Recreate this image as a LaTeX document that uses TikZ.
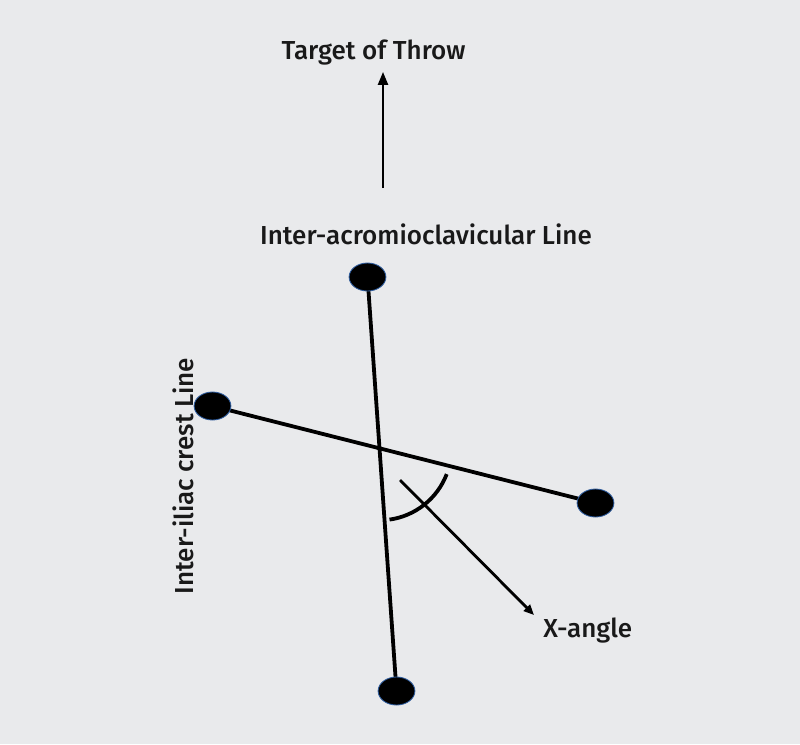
\documentclass[tikz,border=0pt]{standalone}
\usepackage{fontspec}
\setmainfont{Fira Sans}[UprightFont={* Medium}]
\usepackage{tikz}
\usetikzlibrary{shapes.geometric, arrows.meta, backgrounds}
\definecolor{paper}{HTML}{E9EAEC}
\definecolor{rimblue}{HTML}{2E5C9E}

\begin{document}
\begin{tikzpicture}[
  x=0.025cm, y=-0.025cm,
  dot/.style={ellipse, fill=black, draw=rimblue, line width=0.6pt, minimum width=0.92cm, minimum height=0.7cm, inner sep=0pt},
  label/.style={font=\fontsize{18.5}{22}\selectfont, text=black!90, inner sep=0pt, anchor=base},
  bar/.style={line width=2.7pt, black},
]
  \useasboundingbox (0,0) rectangle (800,744);

  % Points
  \node[dot] (shoulder) at (367.5,277) {};
  \node[dot] (hipleft)  at (212.5,406) {};
  \node[dot] (hipright) at (595.5,503) {};
  \node[dot] (foot)     at (396.5,691) {};

  % Lines
  \begin{pgfonlayer}{background}
    \fill[paper] (0,0) rectangle (800,744);
    \draw[bar] (shoulder.center) -- (foot.center);
    \draw[bar] (hipleft.center) -- (hipright.center);
  \end{pgfonlayer}

  % Labels
  \node[label] (target) at (373.5,59) {Target of Throw};
  \node[label] (acline) at (426,244) {Inter-acromioclavicular Line};
  \node[label, rotate=90] (icline) at (193,476) {Inter-iliac crest Line};
  \node[label, anchor=base west] (xangle) at (543,637) {X-angle};

  % Arrow
  \coordinate (throwbase) at (383,188);
  \coordinate (throwtip) at (383,72);
  \draw[-{Triangle[length=3.2mm, width=2.5mm]}, line width=1.4pt] (throwbase) -- (throwtip);

  % Angle
  \coordinate (cross) at (intersection of shoulder.center--foot.center and hipleft.center--hipright.center);
  \draw[line width=2.7pt] (cross) ++(82:72) arc[start angle=82, end angle=21, radius=72];
  \coordinate (xstart) at (400,480);
  \coordinate (xtip) at (534,615);
  \draw[-{Triangle[length=2.6mm, width=2.2mm]}, line width=2pt] (xstart) -- (xtip);

\end{tikzpicture}
\end{document}
